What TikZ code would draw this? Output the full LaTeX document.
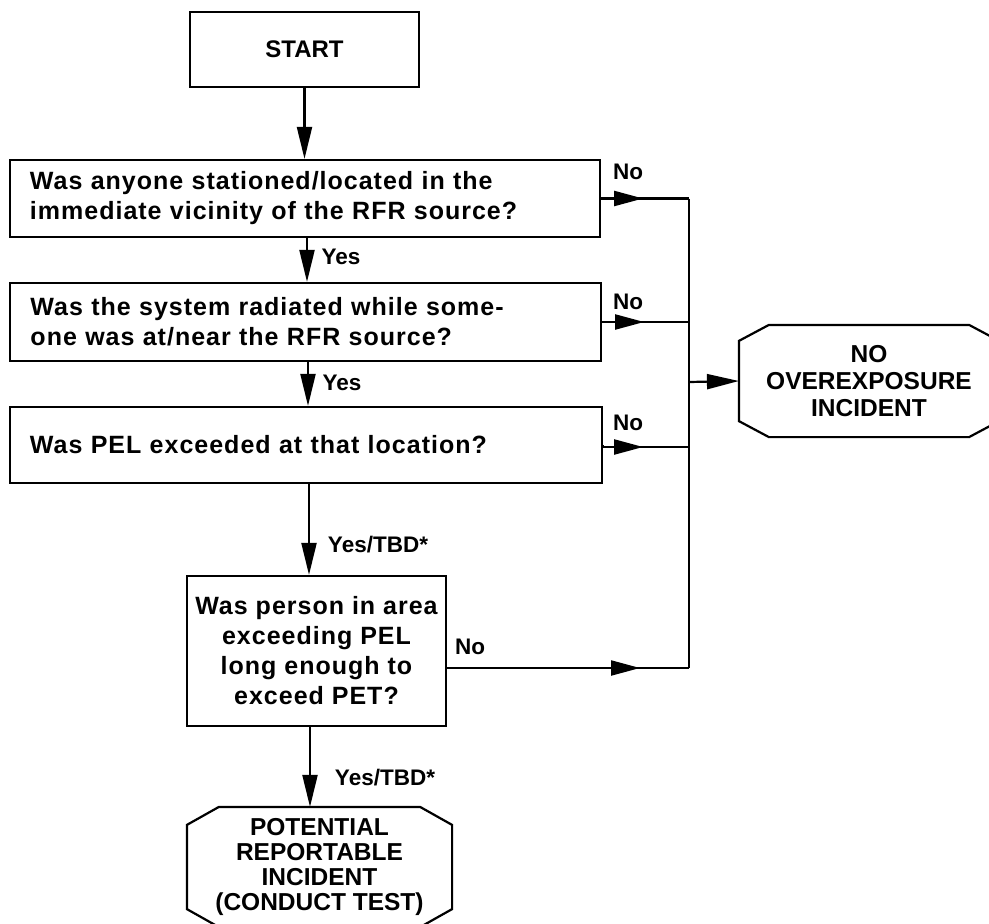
\documentclass[tikz,border=0pt]{standalone}
\usepackage{fontspec}
\usetikzlibrary{arrows.meta,decorations.markings}
\newfontfamily\qfont[LetterSpace=4]{Liberation Sans Bold}
\newfontfamily\capfont{Liberation Sans Bold}

% octagon outline around a (borderless) node: name, chamfer x, chamfer y
\newcommand\drawoct[3]{%
  \draw ([xshift=#2pt]#1.north west) -- ([xshift=-#2pt]#1.north east)
     -- ([yshift=-#3pt]#1.north east) -- ([yshift=#3pt]#1.south east)
     -- ([xshift=-#2pt]#1.south east) -- ([xshift=#2pt]#1.south west)
     -- ([yshift=#3pt]#1.south west) -- ([yshift=-#3pt]#1.north west) -- cycle;}

\begin{document}
\begin{tikzpicture}[x=1pt,y=-1pt,line width=2.2pt,
  tipv/.tip={Triangle[length=32pt,width=15pt]},
  tiph/.tip={Triangle[length=29pt,width=15pt]},
  qbox/.style={draw,rectangle,inner sep=0pt,font=\qfont\fontsize{25}{30}\selectfont},
  capbox/.style={rectangle,inner sep=0pt,align=center},
  lbl/.style={inner sep=0pt,font=\capfont\fontsize{22.5}{26}\selectfont},
  midarrow/.style={postaction={decorate},
    decoration={markings,mark=at position #1 with {\arrow{tiph}}}}]

\useasboundingbox (0,0) rectangle (989,924);
\clip (0,0) rectangle (989,924);

% process boxes
\node[qbox,minimum width=229pt,minimum height=75pt,
      font=\capfont\fontsize{24}{30}\selectfont] (start) at (304.5,49.5) {START};
\node[qbox,text width=550pt,align=left,minimum width=590pt,minimum height=77pt]
  (b1) at (305,198.5) {Was anyone stationed/located in the\\immediate vicinity of the RFR source?};
\node[qbox,text width=550pt,align=left,minimum width=591pt,minimum height=78pt]
  (b2) at (305.5,322) {Was the system radiated while some-\\one was at/near the RFR source?};
\node[qbox,text width=552pt,align=left,minimum width=592pt,minimum height=76pt]
  (b3) at (306,445) {Was PEL exceeded at that location?};
\node[qbox,align=center,minimum width=259pt,minimum height=150pt]
  (b4) at (316.5,651) {Was person in area\\exceeding PEL\\long enough to\\exceed PET?};

% terminal octagons
\node[capbox,minimum width=258pt,minimum height=110pt,
      font=\capfont\fontsize{24.5}{27}\selectfont] (noexp) at (869,381)
  {NO\\OVEREXPOSURE\\INCIDENT};
\drawoct{noexp}{30}{16}
\node[capbox,minimum width=263pt,minimum height=118pt,
      font=\capfont\fontsize{24.5}{25}\selectfont] (pot) at (319.5,867)
  {POTENTIAL\\REPORTABLE\\INCIDENT\\(CONDUCT TEST)};
\drawoct{pot}{32}{18}

% collecting rail on the right
\coordinate (r1) at (689,198.5);
\coordinate (r2) at (689,322);
\coordinate (r3) at (689,447);
\coordinate (r4) at (689,668);
\coordinate (r5) at (689,382);
\coordinate (b4out) at (446,668);
\draw (r1) -- (r4);

% "No" branches
\draw[midarrow=42pt] (b1.east) -- (r1);
\draw[midarrow=42pt] (b2.east) -- (r2);
\draw[midarrow=42pt] (b3.east) -- (b3.east |- r3) -- (r3);
\draw[midarrow=194pt] (b4out) -- (r4);
\draw[-tipv] (r5) -- (noexp.west);

% "Yes" flow
\draw[-tipv] (start.south) -- (start.south |- b1.north);
\draw[-tipv] (b1.south -| 307,0) -- (b2.north -| 307,0);
\draw[-tipv] (b2.south -| 308,0) -- (b3.north -| 308,0);
\draw[-tipv] (b3.south -| 309,0) -- (b4.north -| 309,0);
\draw[-tipv] (b4.south -| 310,0) -- (pot.north -| 310,0);

% branch labels
\node[lbl] (no1) at (628,172) {No};
\node[lbl] (no2) at (628,302) {No};
\node[lbl] (no3) at (628,423) {No};
\node[lbl] (no4) at (470,647) {No};
\node[lbl] (yes1) at (341,257) {Yes};
\node[lbl] (yes2) at (342,383) {Yes};
\node[lbl] (tbd1) at (378,545) {Yes/TBD*};
\node[lbl] (tbd2) at (385,778) {Yes/TBD*};
\end{tikzpicture}
\end{document}
